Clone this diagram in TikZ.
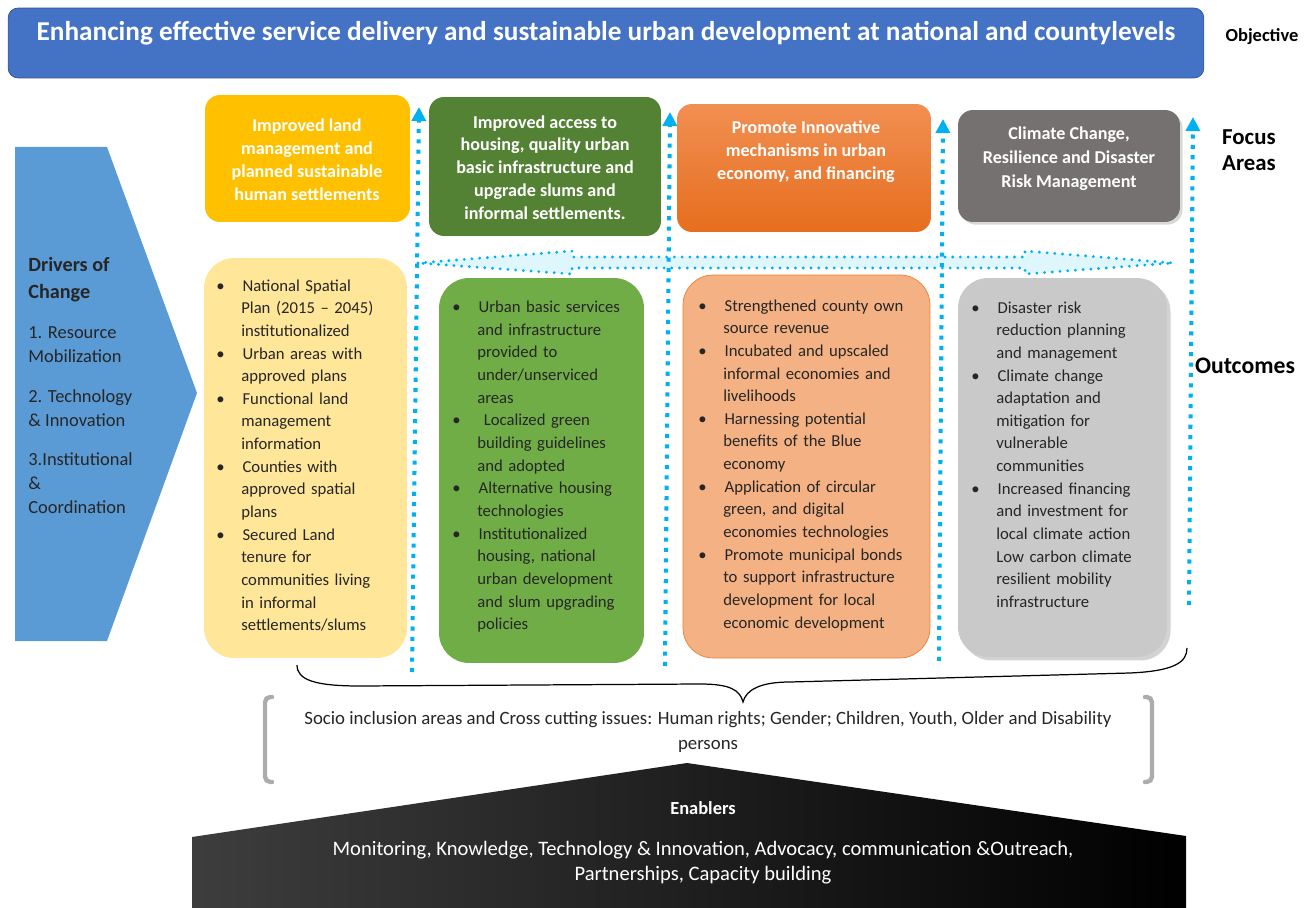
\documentclass[tikz,border=0pt]{standalone}
\usepackage{fontspec}
\setmainfont{Carlito}
\usetikzlibrary{shapes.misc}
\usetikzlibrary{arrows,arrows.meta}
\usetikzlibrary{calc, shadows}
\definecolor{objblue}{RGB}{68,114,196}
\definecolor{objborder}{RGB}{47,82,143}
\definecolor{yel}{RGB}{255,192,0}
\definecolor{ltyel}{RGB}{255,230,153}
\definecolor{dkgreen}{RGB}{84,130,53}
\definecolor{green}{RGB}{112,173,71}
\definecolor{orangetop}{RGB}{241,143,82}
\definecolor{orangebot}{RGB}{230,110,30}
\definecolor{ltorange}{RGB}{244,177,131}
\definecolor{orangeline}{RGB}{237,125,49}
\definecolor{dkgray}{RGB}{118,113,113}
\definecolor{ltgray}{RGB}{201,201,201}
\definecolor{dotblue}{RGB}{0,176,240}
\definecolor{drvblue}{RGB}{91,155,213}
\definecolor{txtdark}{RGB}{38,38,38}
\colorlet{dotblue-lighter}{dotblue!12}

\newenvironment{outlist}{\begin{list}{\textbullet}{%
  \setlength{\leftmargin}{14.2pt}\setlength{\labelsep}{10.2pt}%
  \setlength{\labelwidth}{4pt}\setlength{\itemsep}{0pt}%
  \setlength{\parsep}{0pt}\setlength{\topsep}{0pt}\setlength{\partopsep}{0pt}}}%
  {\end{list}}

\begin{document}
\begin{tikzpicture}[x=0.02cm, y=-0.02cm,
    focusbox/.style={rounded corners=0.3cm, inner sep=0pt},
    focustext/.style={text=white, font=\fontsize{10.3}{13}\selectfont\bfseries, align=center, inner sep=0pt},
    outbox/.style={rounded corners=0.6cm, inner sep=0pt},
    outtext/.style={anchor=north west, inner sep=0pt, text=txtdark, font=\fontsize{9.5}{12.9}\selectfont},
    sidelabel/.style={font=\fontsize{13}{14.7}\selectfont\bfseries, align=left, inner sep=0pt},
    drvtext/.style={anchor=west, inner sep=0pt, text=txtdark, align=left, font=\fontsize{10.5}{13.6}\selectfont},
    dotarrow/.style={dotblue, line width=2.3pt, dash pattern=on 2.3pt off 3.6pt, -{Triangle[width=8pt,length=8pt]}},
    hdots/.style={dotblue, fill=dotblue-lighter, line width=1.8pt, line cap=round, dash pattern=on 0pt off 4.4pt},
    brk/.style={gray!65, line width=2.5pt, rounded corners=3pt, line cap=round},
    ]

    \useasboundingbox (0,0) rectangle (1312,908);

    % objective
    \node[draw=objborder, fill=objblue, rounded corners=0.2cm, minimum width=23.92cm, minimum height=1.4cm, inner sep=0pt] (obj) at (606,43) {};
    \node[text=white, font=\fontsize{15.5}{17}\selectfont\bfseries, inner sep=0pt] (objt) at (606,33) {Enhancing effective service delivery and sustainable urban development at national and countylevels};
    \node[font=\fontsize{10.5}{12}\selectfont\bfseries, inner sep=0pt] (objl) at (1262,37) {Objective};

    % drivers of change
    \fill[drvblue] (15,147) -- (107,147) -- (197,393) -- (107,641) -- (15,641) -- cycle;
    \node[drvtext, font=\fontsize{11.5}{15.3}\selectfont\bfseries] (drvh) at (28,279.5) {Drivers of\\Change};
    \node[drvtext] (drv1) at (28,344.5) {1. Resource\\Mobilization};
    \node[drvtext] (drv2) at (28,408) {2. Technology\\\& Innovation};
    \node[drvtext] (drv3) at (28,483.5) {3.Institutional\\\&\\Coordination};

    % link between focus areas
    \draw[hdots] (418,263) -- (572,251) -- (572,257) -- (1025,257) -- (1025,251) -- (1173,263) -- (1025,274) -- (1025,268) -- (572,268) -- (572,274) -- cycle;

    % vertical dotted arrows
    \coordinate (v1b) at (412,672);
    \coordinate (v1t) at (419,107);
    \coordinate (v2b) at (665,666);
    \coordinate (v2t) at (670,112);
    \coordinate (v3b) at (939,661);
    \coordinate (v3t) at (943,119);
    \coordinate (v4b) at (1189,605);
    \coordinate (v4t) at (1193,117);
    \draw[dotarrow] (v1b) -- (v1t);
    \draw[dotarrow] (v2b) -- (v2t);
    \draw[dotarrow] (v3b) -- (v3t);
    \draw[dotarrow] (v4b) -- (v4t);

    % focus areas
    \node[focusbox, fill=yel, minimum width=4.1cm, minimum height=2.54cm] (fa1) at (307.5,158.5) {};
    \node[focusbox, fill=dkgreen, minimum width=4.64cm, minimum height=2.78cm] (fa2) at (545,166.5) {};
    \node[focusbox, top color=orangetop, bottom color=orangebot, minimum width=5.08cm, minimum height=2.56cm] (fa3) at (804,168) {};
    \node[focusbox, fill=dkgray, drop shadow={shadow xshift=1.5pt, shadow yshift=-1.5pt, opacity=0.3}, minimum width=4.44cm, minimum height=2.24cm] (fa4) at (1069,166) {};

    \node[focustext] (fa1t) at (307,159.5) {Improved land\\management and\\planned sustainable\\human settlements};
    \node[focustext] (fa2t) at (545,167.5) {Improved access to\\housing, quality urban\\basic infrastructure and\\upgrade slums and\\informal settlements.};
    \node[focustext] (fa3t) at (806,152) {Promote Innovative\\mechanisms in urban\\economy, and financing};
    \node[focustext, font=\fontsize{10.3}{13.8}\selectfont\bfseries] (fa4t) at (1069,158.5) {Climate Change,\\Resilience and Disaster\\Risk Management};

    \node[sidelabel] (fal) at (1249,150) {Focus\\Areas};

    % outcomes
    \node[outbox, fill=ltyel, minimum width=4.06cm, minimum height=8cm] (oc1) at (305.5,458) {};
    \node[outbox, fill=green, minimum width=4.1cm, minimum height=7.7cm] (oc2) at (541.5,470.5) {};
    \node[outbox, fill=ltorange, draw=orangeline, minimum width=4.94cm, minimum height=7.66cm] (oc3) at (806.5,466.5) {};
    \node[outbox, fill=ltgray, drop shadow={shadow xshift=2pt, shadow yshift=-2pt, opacity=0.35}, minimum width=4.18cm, minimum height=7.58cm] (oc4) at (1062.5,467.5) {};

    \node[outtext, text width=3.68cm] (oc1t) at (216,268) {\raggedright\begin{outlist}
        \item National Spatial\\Plan (2015 -- 2045)\\institutionalized
        \item Urban areas with\\approved plans
        \item Functional land\\management\\information
        \item Counties with\\approved spatial\\plans
        \item Secured Land\\tenure for\\communities living\\in informal\\settlements/slums
    \end{outlist}};
    \node[outtext, text width=3.76cm] (oc2t) at (452,289.5) {\raggedright\begin{outlist}
        \item Urban basic services\\and infrastructure\\provided to\\under/unserviced\\areas
        \item \hspace{3pt}Localized green\\building guidelines\\and adopted
        \item Alternative housing\\technologies
        \item Institutionalized\\housing, national\\urban development\\and slum upgrading\\policies
    \end{outlist}};
    \node[outtext, text width=4.54cm] (oc3t) at (698,288) {\raggedright\begin{outlist}
        \item Strengthened county own\\source revenue
        \item Incubated and upscaled\\informal economies and\\livelihoods
        \item Harnessing potential\\benefits of the Blue\\economy
        \item Application of circular\\green, and digital\\economies technologies
        \item Promote municipal bonds\\to support infrastructure\\development for local\\economic development
    \end{outlist}};
    \node[outtext, text width=3.78cm] (oc4t) at (971,290) {\raggedright\begin{outlist}
        \item Disaster risk\\reduction planning\\and management
        \item Climate change\\adaptation and\\mitigation for\\vulnerable\\communities
        \item Increased financing\\and investment for\\local climate action\\Low carbon climate\\resilient mobility\\infrastructure
    \end{outlist}};

    \node[sidelabel, font=\fontsize{13.5}{15}\selectfont\bfseries] (ocl) at (1245,366) {Outcomes};

    % cross cutting issues
    \draw[line width=0.7pt] (297,665) .. controls (297,680) and (315,686) .. (360,686) -- (700,684) .. controls (730,684) and (740,690) .. (743,702) .. controls (746,690) and (760,682) .. (790,682) -- (1130,673) .. controls (1175,671) and (1187,662) .. (1187,648);
    \draw[brk] (272,697) -- (265,697) -- (265,782) -- (272,782);
    \draw[brk] (1145,697) -- (1152,697) -- (1152,782) -- (1145,782);
    \node[font=\fontsize{10.7}{14.7}\selectfont, text=txtdark, align=center, inner sep=0pt] (soc) at (708,732) {Socio inclusion areas and Cross cutting issues: Human rights; Gender; Children, Youth, Older and Disability\\persons};

    % enablers
    \shade[left color=black!76, middle color=black, right color=black] (192,837) -- (687,763) -- (1186,836) -- (1186,908) -- (192,908) -- cycle;
    \node[text=white, font=\fontsize{10.5}{12}\selectfont\bfseries, inner sep=0pt] (enh) at (703,808) {Enablers};
    \node[text=white, font=\fontsize{11.7}{14.2}\selectfont, align=center, inner sep=0pt] (ent) at (703,862.5) {Monitoring, Knowledge, Technology \& Innovation, Advocacy, communication \&Outreach,\\Partnerships, Capacity building};

\end{tikzpicture}
\end{document}
